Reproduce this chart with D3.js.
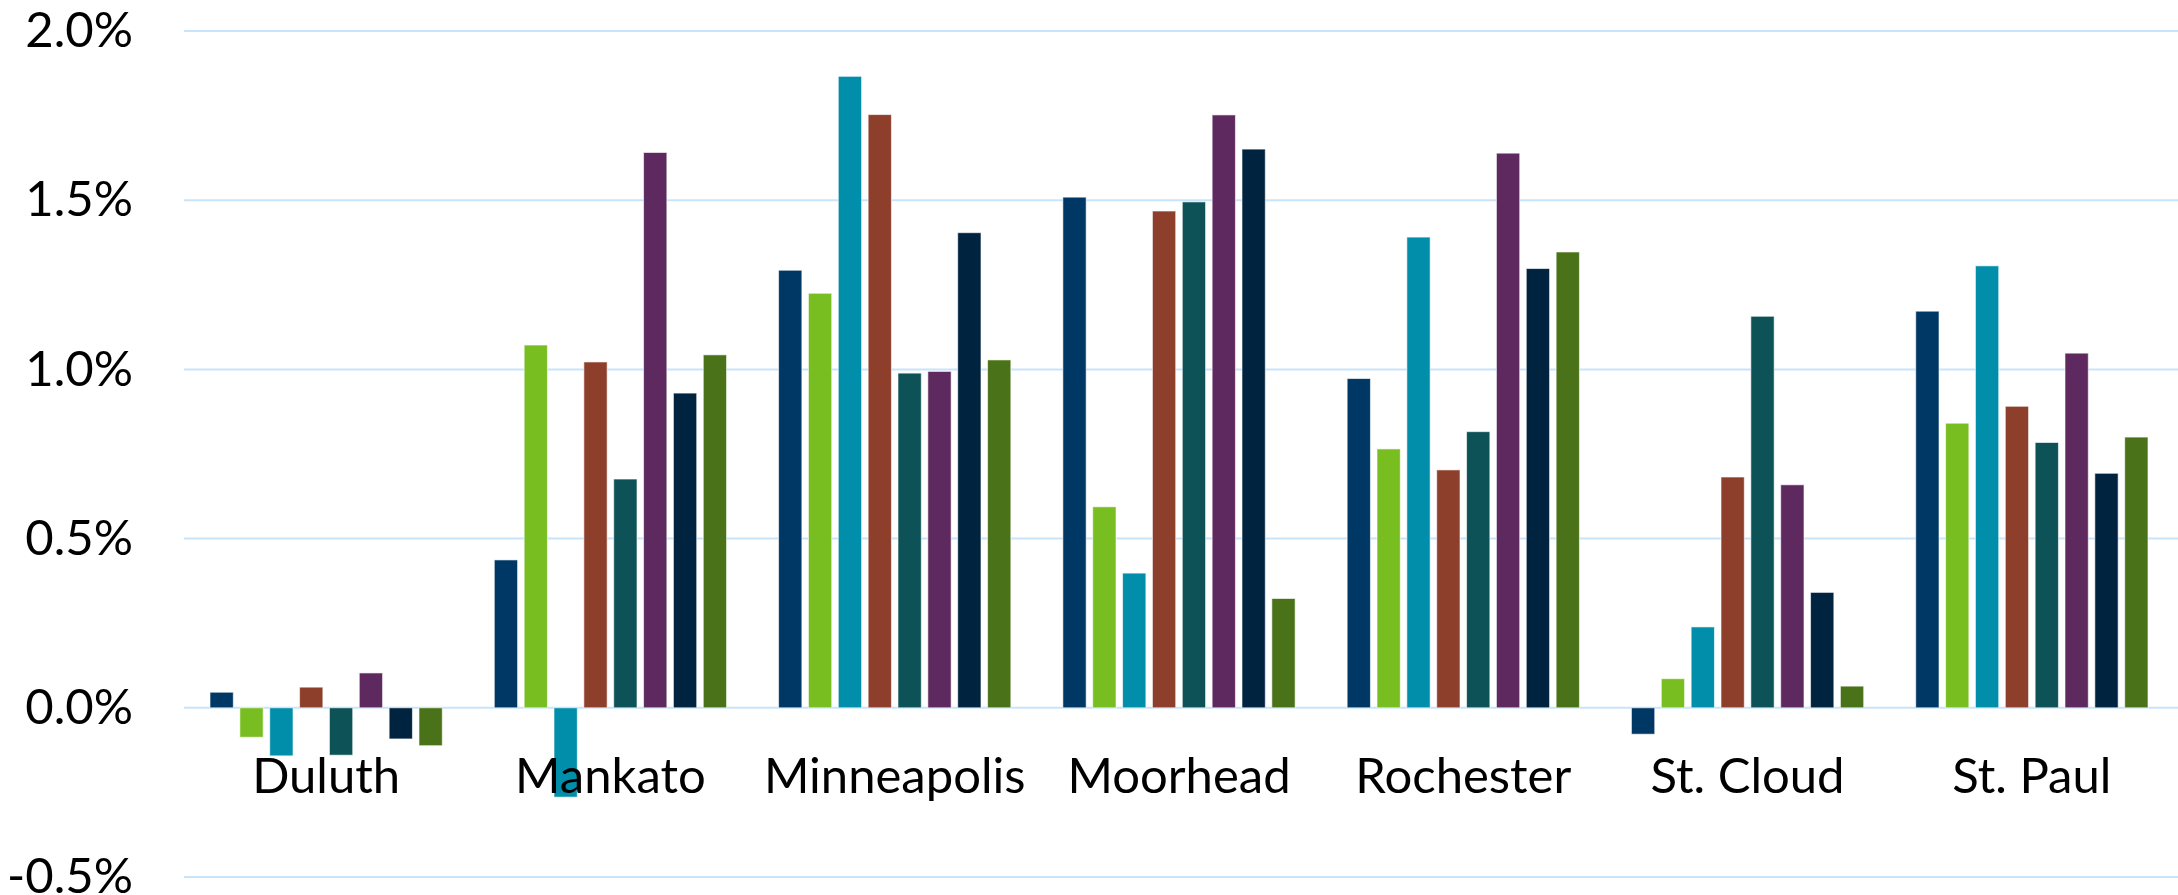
<!DOCTYPE html>
<html>
<head>
<meta charset="utf-8">
<script src="https://cdn.jsdelivr.net/npm/d3@7"></script>
<style>
  html, body { margin: 0; padding: 0; background: #fff; }
  text { font-family: Lato, 'Open Sans', sans-serif; fill: #000; }
</style>
</head>
<body>
<div class="canvas"></div>
<script>
// categories and tick labels
const cities = ['Duluth', 'Mankato', 'Minneapolis', 'Moorhead', 'Rochester', 'St. Cloud', 'St. Paul']
const yTicks = [-0.5, 0, 0.5, 1.0, 1.5, 2.0]

// one array per series (percent), in city order
const series1 = [0.046, 0.437, 1.293, 1.509, 0.973, -0.078, 1.172]
const series2 = [-0.087, 1.072, 1.225, 0.594, 0.765, 0.086, 0.841]
const series3 = [-0.142, -0.264, 1.866, 0.398, 1.391, 0.239, 1.306]
const series4 = [0.061, 1.022, 1.753, 1.468, 0.703, 0.682, 0.891]
const series5 = [-0.140, 0.676, 0.989, 1.495, 0.816, 1.157, 0.784]
const series6 = [0.103, 1.641, 0.994, 1.752, 1.639, 0.659, 1.048]
const series7 = [-0.092, 0.930, 1.404, 1.651, 1.298, 0.341, 0.693]
const series8 = [-0.112, 1.043, 1.028, 0.323, 1.347, 0.064, 0.800]

const seriesList = [series1, series2, series3, series4, series5, series6, series7, series8]
const colors = ['#003865', '#78be21', '#008eaa', '#8d3f2b', '#0d5257', '#5d295f', '#00233f', '#4a7218']

const margin = { top: 31, right: 4, bottom: 18, left: 184 }
const svgWidth = 2178, svgHeight = 895
const graphWidth = svgWidth - margin.left - margin.right, graphHeight = svgHeight - margin.top - margin.bottom

const svg = d3.select('.canvas')
  .append('svg')
  .attr('width', svgWidth)
  .attr('height', svgHeight)

const graph = svg.append('g')
  .attr('transform', `translate(${margin.left}, ${margin.top})`)

// scales
const x0 = d3.scaleBand()
  .domain(cities)
  .range([0, graphWidth])
  .paddingInner(0.183)
  .paddingOuter(0.0915)

const x1 = d3.scaleBand()
  .domain(d3.range(seriesList.length))
  .range([0, x0.bandwidth()])
  .paddingInner(0.22)

const y = d3.scaleLinear()
  .domain([-0.5, 2.0])
  .range([graphHeight, 0])

// gridlines
graph.append('g')
  .selectAll('line')
  .data(yTicks)
  .enter()
  .append('line')
  .attr('x1', 0)
  .attr('x2', graphWidth + margin.right)
  .attr('y1', d => y(d))
  .attr('y2', d => y(d))
  .attr('stroke', '#c8e4fb')
  .attr('stroke-width', 2)

// y axis labels
const yAxis = d3.axisLeft(y)
  .tickValues(yTicks)
  .tickFormat(d => d.toFixed(1) + '%')
  .tickSize(0)
  .tickPadding(51)

const yAxisGroup = graph.append('g').call(yAxis)
yAxisGroup.select('.domain').remove()
yAxisGroup.selectAll('text')
  .style('font-size', '49px')
  .attr('fill', '#000')

// bars
const groups = graph.selectAll('g.city')
  .data(cities)
  .enter()
  .append('g')
  .attr('class', 'city')
  .attr('transform', d => `translate(${x0(d)}, 0)`)

groups.selectAll('rect')
  .data((d, ci) => seriesList.map((s, si) => ({ si, value: s[ci] })))
  .enter()
  .append('rect')
  .attr('x', d => x1(d.si))
  .attr('width', x1.bandwidth())
  .attr('y', d => y(Math.max(0, d.value)))
  .attr('height', d => Math.abs(y(d.value) - y(0)))
  .attr('fill', d => colors[d.si])
  .attr('stroke', '#ffffff')
  .attr('stroke-opacity', 0.6)
  .attr('stroke-width', 1)

// category labels below the zero line
graph.append('g')
  .selectAll('text')
  .data(cities)
  .enter()
  .append('text')
  .attr('x', d => x0(d) + x0.bandwidth() / 2)
  .attr('y', y(0) + 85)
  .attr('text-anchor', 'middle')
  .style('font-size', '49px')
  .text(d => d)
</script>
</body>
</html>
